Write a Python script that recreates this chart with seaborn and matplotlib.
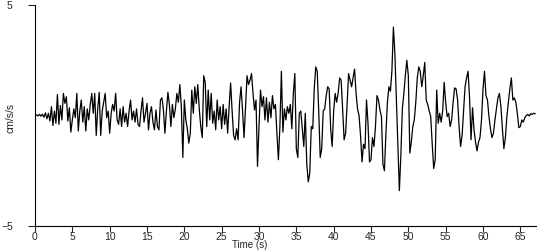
import numpy as np
import pandas as pd
import matplotlib
matplotlib.use("Agg")
import matplotlib.pyplot as plt
import seaborn as sns

# sample interval (s)
dt = 0.2

# acceleration (cm/s/s) in 5-second windows
acc_00_05 = [0.00, 0.03, -0.02, 0.05, -0.03, 0.06, -0.08, 0.12, -0.15, 0.10,
             -0.25, 0.40, -0.45, 0.20, -0.35, 0.95, -0.40, 0.45, -0.20, 1.00,
             0.55, 0.85, -0.25, 0.35, -0.75]
acc_05_10 = [-0.2, 0.3, -0.1, 1.0, -0.7, 0.2, 0.7, -0.3, 0.4, -0.7,
             0.3, -0.2, 0.5, 1.0, 0.1, 1.0, -0.9, 0.3, 1.05, -0.9,
             0.2, 0.6, 1.0, -0.1, 0.2]
acc_10_15 = [-0.8, 0.1, 0.5, 0.2, 1.0, -0.2, -0.4, 0.3, -0.5, 0.4,
             -0.3, 0.1, -0.5, 0.2, 0.7, -0.2, 0.2, -0.3, 0.3, -0.4,
             -0.5, 0.2, 0.8, -0.3, 0.1]
acc_15_20 = [0.55, -0.65, 0.1, 0.4, -0.3, -0.65, 0.25, -0.5, -0.65, 0.7,
             0.8, 0.25, -0.8, 0.2, 1.05, 0.5, -0.5, 0.5, -0.1, 0.3,
             1.0, 0.6, 1.4, 0.4, -1.9]
acc_20_25 = [0.7, -0.2, -0.6, -1.25, -0.8, 1.15, 0.1, 1.3, 0.55, 1.4,
             0.3, -0.5, -1.0, 1.8, 1.5, -0.5, 1.15, -0.2, 1.0, -0.35,
             0.2, -0.65, 0.7, -0.2, 0.4]
acc_25_30 = [-0.6, 0.5, -0.4, 0.3, -0.8, 0.4, 1.47, 0.2, -0.9, -1.1,
             -0.6, -1.1, 0.6, 1.3, 0.2, -1.0, 0.4, 1.8, 1.4, 1.6,
             1.9, 1.0, 0.25, 0.7, -2.3]
acc_30_35 = [-0.5, 1.15, 0.4, 0.85, -0.2, 0.8, -0.3, 0.6, -0.1, 0.9,
             0.3, 0.5, -0.8, -2.0, -0.5, 2.0, -0.75, 0.3, -0.2, 0.4,
             0.1, 0.5, -0.6, 1.0, 1.9]
acc_35_40 = [-1.5, -1.9, 0.1, 0.2, -0.6, -1.4, 0.1, -2.2, -3.0, -2.6,
             -0.5, -0.6, 1.2, 2.2, 2.0, 0.2, -1.9, -1.5, 0.2, 0.3,
             0.9, 1.3, 1.2, -0.6, -1.4]
acc_40_45 = [0.2, 1.0, 0.6, 1.0, 1.7, 1.6, 0.3, -1.1, -0.8, 0.5,
             1.9, 1.6, 1.3, 1.7, 2.1, 1.0, 0.3, 0.0, -0.9, -2.1,
             -1.3, -1.5, 0.7, -0.35, -2.1]
acc_45_50 = [-2.0, -1.0, -1.4, -0.5, 0.9, 0.7, 0.25, -0.05, -2.2, -2.5,
             -0.8, 0.6, 1.3, 1.1, 2.0, 4.0, 2.8, 0.7, -1.5, -3.4,
             -1.8, 0.3, 1.0, 1.8, 2.5]
acc_50_55 = [1.8, -1.7, -1.2, -0.5, -0.2, 0.6, 1.7, 2.2, 2.0, 1.3,
             1.8, 2.4, 0.7, 0.5, 0.2, -0.05, -1.3, -2.4, -2.0, 1.15,
             -0.35, 0.1, -0.3, 0.2, 1.5]
acc_55_60 = [0.6, -0.05, 0.1, -0.5, -0.2, 0.6, 1.25, 1.2, 0.7, -0.5,
             -1.4, -0.9, 0.2, 1.3, 1.7, 2.0, 0.8, -1.1, 0.35, -0.65,
             -1.2, -1.6, -1.2, -1.0, -0.2]
acc_60_65 = [1.2, 2.0, 0.9, 0.7, -0.05, -0.6, -1.0, -0.8, -0.2, 0.3,
             0.8, 1.0, 0.4, -0.6, -1.5, -1.0, -0.05, 0.6, 1.2, 1.7,
             0.7, 0.8, 0.6, 0.1, -0.55]
acc_65_67 = [-0.5, -0.2, -0.3, -0.1, 0.0, 0.05, -0.02, 0.08, 0.05, 0.1, 0.08]

x_ticks = [0, 5, 10, 15, 20, 25, 30, 35, 40, 45, 50, 55, 60, 65]
y_ticks = [-5, 5]

acc = np.concatenate([acc_00_05, acc_05_10, acc_10_15, acc_15_20, acc_20_25,
                      acc_25_30, acc_30_35, acc_35_40, acc_40_45, acc_45_50,
                      acc_50_55, acc_55_60, acc_60_65, acc_65_67])
time = np.arange(len(acc)) * dt
df = pd.DataFrame({"Time (s)": time, "cm/s/s": acc})

sns.set_style("white")
plt.rcParams["font.family"] = ["Liberation Sans", "DejaVu Sans"]

fig = plt.figure(figsize=(5.5, 2.5), dpi=100)
ax = fig.add_axes([35 / 550, 1 - 226 / 250, 501 / 550, 221 / 250])

sns.lineplot(data=df, x="Time (s)", y="cm/s/s", color="black", linewidth=0.9,
             estimator=None, sort=False, ax=ax)

ax.set_xlim(0, 67.1)
ax.set_ylim(-5, 5)
ax.set_xticks(x_ticks)
ax.set_yticks(y_ticks)
ax.tick_params(axis="x", direction="out", length=4, width=0.8, pad=0,
               labelsize=7.5, bottom=True)
ax.tick_params(axis="y", direction="out", length=5, width=0.8, pad=11,
               labelsize=7.5, left=True)
for s in ["top", "right"]:
    ax.spines[s].set_visible(False)
for s in ["left", "bottom"]:
    ax.spines[s].set_color("black")
    ax.spines[s].set_linewidth(0.8)

ax.set_xlabel("Time (s)", fontsize=7, labelpad=0)
ax.xaxis.set_label_coords((250 - 35) / 501, -0.064)
ax.set_ylabel("cm/s/s", fontsize=7.5)
ax.yaxis.set_label_coords(-19 / 501, 0.49)

fig.savefig("out.png", dpi=100)
